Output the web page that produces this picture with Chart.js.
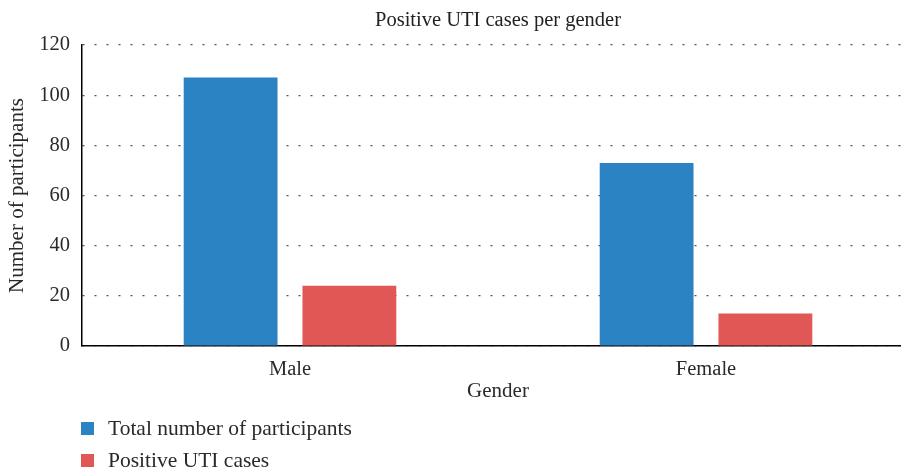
<!DOCTYPE html>
<html>
<head>
<meta charset="utf-8">
<script src="https://cdn.jsdelivr.net/npm/chart.js@4"></script>
<style>
  body { margin: 0; overflow: hidden; background: #fff; }
  #wrap { position: relative; width: 914px; height: 473px; }
  .legend-row { position: absolute; left: 81px; height: 24px; display: flex; align-items: center;
    font-family: "Liberation Serif", serif; font-size: 21.5px; color: #2a2a2a; }
  .legend-box { width: 13px; height: 13px; margin-right: 14px; }
</style>
</head>
<body>
<div id="wrap">
  <canvas id="utiChart" width="914" height="473"></canvas>
  <div class="legend-row" style="top:416px"><span class="legend-box" style="background:#2b83c3"></span>Total number of participants</div>
  <div class="legend-row" style="top:448px"><span class="legend-box" style="background:#e05755"></span>Positive UTI cases</div>
</div>
<script>
const genders = ["Male", "Female"];
const totalParticipants = [107, 73];
const positiveCases = [24, 13];
const yTicks = [0, 20, 40, 60, 80, 100, 120];

const serif = "'Liberation Serif', serif";

const utiChart = new Chart("utiChart", {
    type: "bar",
    data: {
        labels: genders,
        datasets: [{
            label: "Total number of participants",
            backgroundColor: "#2b83c3",
            data: totalParticipants,
            categoryPercentage: 0.571,
            barPercentage: 0.79
        }, {
            label: "Positive UTI cases",
            backgroundColor: "#e05755",
            data: positiveCases,
            categoryPercentage: 0.571,
            barPercentage: 0.79
        }]
    },
    options: {
        responsive: false,
        animation: false,
        devicePixelRatio: 1,
        layout: { padding: { left: 0, right: 0, top: 0, bottom: 61 } },
        plugins: {
            legend: { display: false },
            tooltip: { enabled: false },
            title: {
                display: true,
                fullSize: false,
                text: "Positive UTI cases per gender",
                color: "#222",
                font: { family: serif, size: 20.5, weight: "normal", lineHeight: 1.2 },
                padding: { top: 8, bottom: 12.4 }
            }
        },
        scales: {
            x: {
                grid: { display: false, drawTicks: false },
                border: { display: true, color: "#000", width: 1.5 },
                ticks: { color: "#2a2a2a", font: { family: serif, size: 20.5 }, padding: 11 },
                title: {
                    display: true,
                    text: "Gender",
                    color: "#2a2a2a",
                    font: { family: serif, size: 21, lineHeight: 1.2 },
                    padding: { top: 0, bottom: 8 }
                },
                afterFit: function(scale) { scale.height = 66; }
            },
            y: {
                min: 0,
                max: 120,
                afterBuildTicks: function(scale) {
                    scale.ticks = yTicks.map(function(v) { return { value: v }; });
                },
                grid: { color: "#555", lineWidth: 1.2, drawTicks: false },
                border: { display: true, color: "#000", width: 1.5, dash: [2, 10] },
                ticks: { color: "#2a2a2a", font: { family: serif, size: 20.5 }, padding: 12 },
                title: {
                    display: true,
                    text: "Number of participants",
                    color: "#2a2a2a",
                    font: { family: serif, size: 21, lineHeight: 1.2 },
                    padding: { top: 5, bottom: 0 }
                },
                afterFit: function(scale) { scale.width = 82; }
            }
        }
    }
});
</script>
</body>
</html>
